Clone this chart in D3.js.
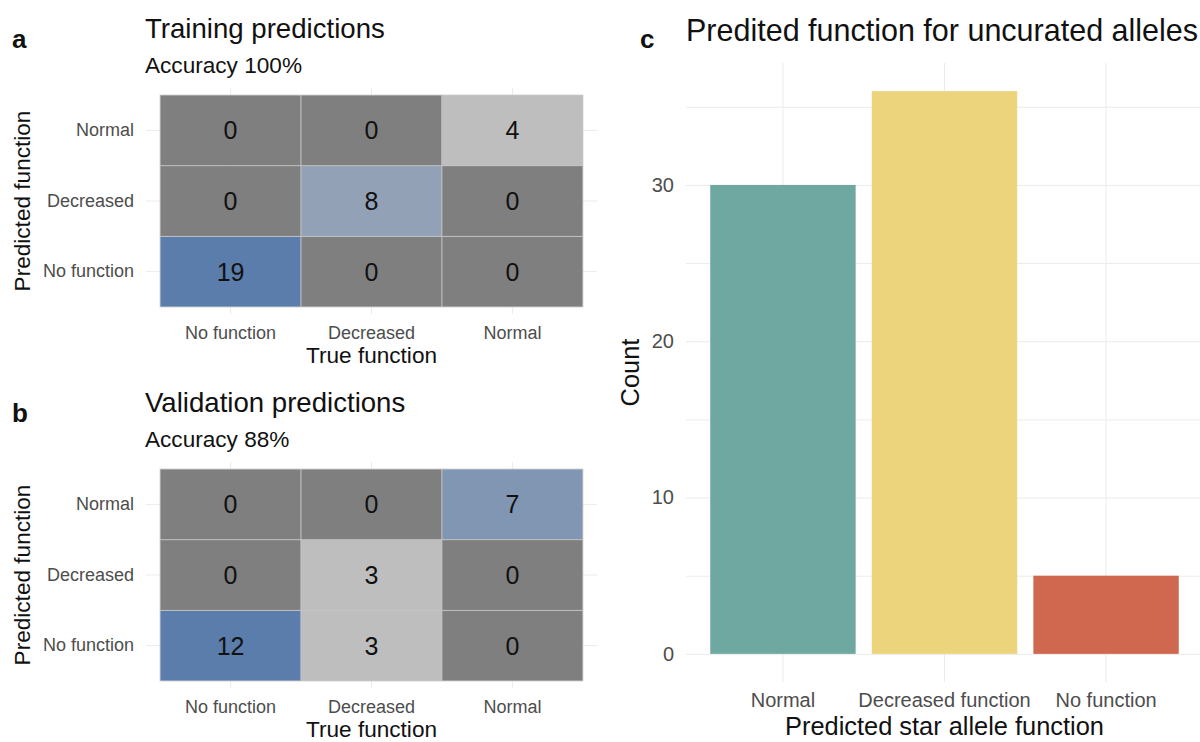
<!DOCTYPE html>
<html>
<head>
<meta charset="utf-8">
<script src="https://cdn.jsdelivr.net/npm/d3@7"></script>
<style>
  body { margin: 0; background: #fff; }
  svg { font-family: "Liberation Sans", Arial, sans-serif; }
  .grid line { stroke: #ebebeb; stroke-width: 1; }
  .grid .domain { display: none; }
  .tick-label text { fill: #4d4d4d; }
  .tick-label .domain, .tick-label line { display: none; }
</style>
</head>
<body>
<div id="chart"></div>
<script>
// confusion matrices: rows = predicted level, cols = true level
const trueLevels = ["No function", "Decreased", "Normal"];
const predLevels = ["Normal", "Decreased", "No function"];   // top to bottom
const rowLevels = ["No function", "Decreased", "Normal"];
const trainingCounts = [
  [19, 0, 0],   // predicted No function
  [0, 8, 0],    // predicted Decreased
  [0, 0, 4]     // predicted Normal
];
const validationCounts = [
  [12, 3, 0],
  [0, 3, 0],
  [0, 0, 7]
];

// panel c
const alleleLevels = ["Normal", "Decreased function", "No function"];
const alleleCounts = [30, 36, 5];
const alleleColors = ["#6fa8a1", "#ecd47d", "#d0684f"];
const countTicks = [0, 10, 20, 30];
const countMinor = [5, 15, 25, 35];

const svg = d3.select('#chart')
  .append('svg')
  .attr('width', 1200)
  .attr('height', 742);

function drawHeatmap(opts) {
  const cells = [];
  opts.counts.forEach((row, i) => {
    row.forEach((v, j) => cells.push({ pred: rowLevels[i], truth: trueLevels[j], value: v }));
  });
  const nonZero = cells.filter(d => d.value > 0).map(d => d.value);
  const color = d3.scaleLog()
    .domain(d3.extent(nonZero))
    .range(["#bebebe", "#5a7dab"]);

  const x = d3.scaleBand()
    .domain(trueLevels)
    .range([opts.left, opts.right])
    .paddingInner(0)
    .paddingOuter(0.1);
  const y = d3.scaleBand()
    .domain(predLevels)
    .range([opts.top, opts.bottom])
    .paddingInner(0)
    .paddingOuter(0.1);

  // grid lines
  svg.append('g')
    .attr('class', 'grid')
    .attr('transform', `translate(0,${opts.bottom})`)
    .call(d3.axisBottom(x).tickSize(-(opts.bottom - opts.top)).tickFormat(''));
  svg.append('g')
    .attr('class', 'grid')
    .attr('transform', `translate(${opts.left},0)`)
    .call(d3.axisLeft(y).tickSize(-(opts.right - opts.left)).tickFormat(''));

  const g = svg.append('g');
  g.selectAll('rect')
    .data(cells)
    .enter().append('rect')
    .attr('x', d => x(d.truth))
    .attr('y', d => y(d.pred))
    .attr('width', x.bandwidth())
    .attr('height', y.bandwidth())
    .attr('fill', d => d.value > 0 ? color(d.value) : '#7f7f7f')
    .attr('stroke', '#c4c4c4')
    .attr('stroke-width', 0.8);

  g.selectAll('text')
    .data(cells)
    .enter().append('text')
    .attr('x', d => x(d.truth) + x.bandwidth() / 2)
    .attr('y', d => y(d.pred) + y.bandwidth() / 2)
    .attr('dy', '0.36em')
    .attr('text-anchor', 'middle')
    .attr('font-size', 25)
    .attr('fill', '#111')
    .text(d => d.value);

  // axes labels
  svg.append('g')
    .attr('class', 'tick-label')
    .attr('transform', `translate(0,${opts.bottom + 4})`)
    .call(d3.axisBottom(x).tickSize(0).tickPadding(8))
    .selectAll('text').attr('font-size', 18);
  svg.append('g')
    .attr('class', 'tick-label')
    .attr('transform', `translate(${opts.left - 4},0)`)
    .call(d3.axisLeft(y).tickSize(0).tickPadding(8))
    .selectAll('text').attr('font-size', 18);

  svg.append('text')
    .attr('x', (opts.left + opts.right) / 2)
    .attr('y', opts.bottom + 49)
    .attr('text-anchor', 'middle')
    .attr('font-size', 22.6)
    .attr('fill', '#111')
    .text('True function');
  svg.append('text')
    .attr('transform', `translate(30,${(opts.top + opts.bottom) / 2}) rotate(-90)`)
    .attr('text-anchor', 'middle')
    .attr('font-size', 22.6)
    .attr('fill', '#111')
    .text('Predicted function');

  svg.append('text')
    .attr('x', 145).attr('y', opts.titleY)
    .attr('font-size', 27.6)
    .attr('fill', '#111')
    .text(opts.title);
  svg.append('text')
    .attr('x', 145).attr('y', opts.titleY + 35)
    .attr('font-size', 22.6)
    .attr('fill', '#111')
    .text(opts.subtitle);
  svg.append('text')
    .attr('x', 12).attr('y', opts.titleY + 10)
    .attr('font-size', 26)
    .attr('font-weight', 'bold')
    .attr('fill', '#111')
    .text(opts.tag);
}

drawHeatmap({
  counts: trainingCounts, left: 146, right: 597, top: 88, bottom: 314,
  title: 'Training predictions', subtitle: 'Accuracy 100%', tag: 'a', titleY: 38
});
drawHeatmap({
  counts: validationCounts, left: 146, right: 597, top: 462, bottom: 688,
  title: 'Validation predictions', subtitle: 'Accuracy 88%', tag: 'b', titleY: 412
});

// panel c: bar chart
function drawBars() {
  const left = 686, right = 1203, top = 63, bottom = 682;
  const x = d3.scaleBand()
    .domain(alleleLevels)
    .range([left, right])
    .paddingInner(0.1)
    .paddingOuter(0.15);
  const y = d3.scaleLinear()
    .domain([-1.8, 37.8])
    .range([bottom, top]);

  // minor + major grid
  svg.append('g')
    .attr('class', 'grid')
    .attr('transform', `translate(${left},0)`)
    .call(d3.axisLeft(y).tickValues(countMinor).tickSize(-(right - left)).tickFormat(''));
  svg.append('g')
    .attr('class', 'grid')
    .attr('transform', `translate(${left},0)`)
    .call(d3.axisLeft(y).tickValues(countTicks).tickSize(-(right - left)).tickFormat(''));
  svg.append('g')
    .attr('class', 'grid')
    .attr('transform', `translate(0,${bottom})`)
    .call(d3.axisBottom(x).tickSize(-(bottom - top)).tickFormat(''));

  svg.selectAll('.bar')
    .data(alleleLevels)
    .enter().append('rect')
    .attr('class', 'bar')
    .attr('x', d => x(d))
    .attr('y', (d, i) => y(alleleCounts[i]))
    .attr('width', x.bandwidth())
    .attr('height', (d, i) => y(0) - y(alleleCounts[i]))
    .attr('fill', (d, i) => alleleColors[i]);

  svg.append('g')
    .attr('class', 'tick-label')
    .attr('transform', `translate(${left - 4},0)`)
    .call(d3.axisLeft(y).tickValues(countTicks).tickSize(0).tickPadding(8))
    .selectAll('text').attr('font-size', 20);
  svg.append('g')
    .attr('class', 'tick-label')
    .attr('transform', `translate(0,${bottom + 4})`)
    .call(d3.axisBottom(x).tickSize(0).tickPadding(7))
    .selectAll('text').attr('font-size', 20);

  svg.append('text')
    .attr('x', (left + right) / 2)
    .attr('y', 735)
    .attr('text-anchor', 'middle')
    .attr('font-size', 25.4)
    .attr('fill', '#111')
    .text('Predicted star allele function');
  svg.append('text')
    .attr('transform', `translate(639,${(top + bottom) / 2}) rotate(-90)`)
    .attr('text-anchor', 'middle')
    .attr('font-size', 25.4)
    .attr('fill', '#111')
    .text('Count');
  svg.append('text')
    .attr('x', left).attr('y', 41)
    .attr('font-size', 30.5)
    .attr('fill', '#111')
    .text('Predited function for uncurated alleles');
  svg.append('text')
    .attr('x', 640).attr('y', 48)
    .attr('font-size', 26)
    .attr('font-weight', 'bold')
    .attr('fill', '#111')
    .text('c');
}
drawBars();
</script>
</body>
</html>
